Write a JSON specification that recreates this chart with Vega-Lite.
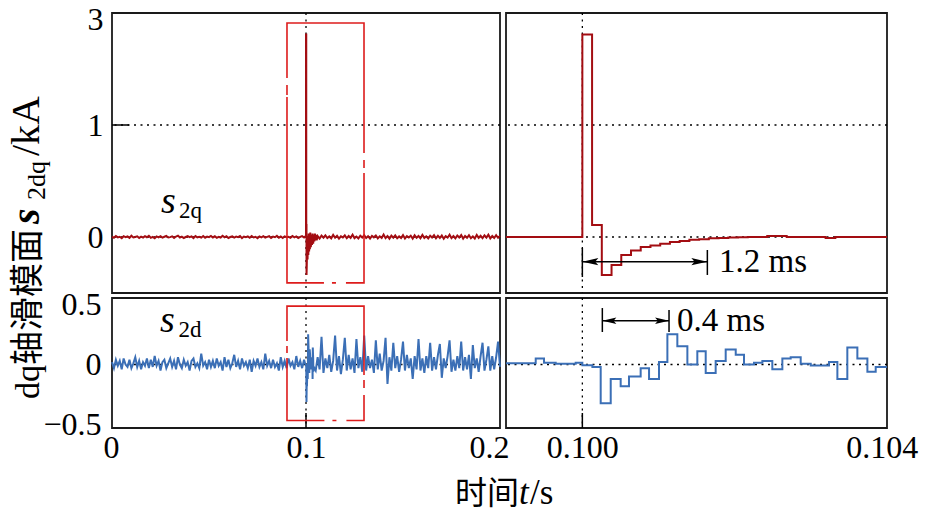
{
  "$schema": "https://vega.github.io/schema/vega-lite/v6.json",
  "background": "white",
  "padding": {"left": 6, "top": 2, "right": 0, "bottom": 0},
  "config": {
    "view": {"stroke": "#1a1a1a", "strokeWidth": 1.8},
    "axis": {"labelFont": "Liberation Serif", "labelFontSize": 32, "labelColor": "#000", "ticks": false, "domain": false, "grid": false}
  },
  "datasets": {
    "lq": [
      {"t":0,"v":0.004},{"t":0.001,"v":-0.006},{"t":0.002,"v":0.009},{"t":0.003,"v":-0.003},{"t":0.004,"v":0.002},{"t":0.005,"v":-0.01},{"t":0.006,"v":0.007},{"t":0.007,"v":-0.001},{"t":0.008,"v":0.005},{"t":0.009,"v":-0.008},
      {"t":0.01,"v":0.011},{"t":0.011,"v":-0.004},{"t":0.012,"v":0},{"t":0.013,"v":0.006},{"t":0.014,"v":-0.009},{"t":0.015,"v":0.003},{"t":0.016,"v":-0.005},{"t":0.017,"v":0.008},{"t":0.018,"v":-0.002},{"t":0.019,"v":0.01},
      {"t":0.02,"v":-0.007},{"t":0.021,"v":0.001},{"t":0.022,"v":-0.011},{"t":0.023,"v":0.005},{"t":0.024,"v":-0.003},{"t":0.025,"v":0.007},{"t":0.026,"v":-0.006},{"t":0.027,"v":0.002},{"t":0.028,"v":0.009},{"t":0.029,"v":-0.004},
      {"t":0.03,"v":-0.001},{"t":0.031,"v":0.006},{"t":0.032,"v":-0.008},{"t":0.033,"v":0.004},{"t":0.034,"v":0.012},{"t":0.035,"v":-0.005},{"t":0.036,"v":0.003},{"t":0.037,"v":-0.009},{"t":0.038,"v":0},{"t":0.039,"v":0.007},
      {"t":0.04,"v":-0.002},{"t":0.041,"v":0.005},{"t":0.042,"v":-0.01},{"t":0.043,"v":0.008},{"t":0.044,"v":-0.003},{"t":0.045,"v":0.001},{"t":0.046,"v":-0.006},{"t":0.047,"v":0.009},{"t":0.048,"v":-0.007},{"t":0.049,"v":0.004},
      {"t":0.05,"v":-0.001},{"t":0.051,"v":0.01},{"t":0.052,"v":-0.004},{"t":0.053,"v":0.006},{"t":0.054,"v":-0.008},{"t":0.055,"v":0.002},{"t":0.056,"v":-0.005},{"t":0.057,"v":0.011},{"t":0.058,"v":-0.003},{"t":0.059,"v":0.007},
      {"t":0.06,"v":-0.009},{"t":0.061,"v":0},{"t":0.062,"v":0.005},{"t":0.063,"v":-0.006},{"t":0.064,"v":0.003},{"t":0.065,"v":-0.002},{"t":0.066,"v":0.008},{"t":0.067,"v":-0.01},{"t":0.068,"v":0.004},{"t":0.069,"v":-0.001},
      {"t":0.07,"v":0.006},{"t":0.071,"v":-0.007},{"t":0.072,"v":0.009},{"t":0.073,"v":-0.004},{"t":0.074,"v":0.002},{"t":0.075,"v":-0.011},{"t":0.076,"v":0.005},{"t":0.077,"v":-0.003},{"t":0.078,"v":0.008},{"t":0.079,"v":-0.005},
      {"t":0.08,"v":0.001},{"t":0.081,"v":0.007},{"t":0.082,"v":-0.008},{"t":0.083,"v":0.003},{"t":0.084,"v":-0.002},{"t":0.085,"v":0.01},{"t":0.086,"v":-0.006},{"t":0.087,"v":0.004},{"t":0.088,"v":-0.009},{"t":0.089,"v":0.006},
      {"t":0.09,"v":-0.001},{"t":0.091,"v":0.002},{"t":0.092,"v":-0.007},{"t":0.093,"v":0.009},{"t":0.094,"v":-0.003},{"t":0.095,"v":0.005},{"t":0.096,"v":-0.01},{"t":0.097,"v":0.001},{"t":0.098,"v":0.008},{"t":0.099,"v":-0.004},
      {"t":0.0995,"v":0.003},{"t":0.1,"v":0},{"t":0.10001,"v":2.72},{"t":0.10013,"v":2.72},{"t":0.10014,"v":0.107},{"t":0.10026,"v":0.107},{"t":0.10027,"v":-0.34},{"t":0.1004,"v":-0.25},{"t":0.1006,"v":-0.02},{"t":0.1008,"v":-0.2},
      {"t":0.101,"v":0.01},{"t":0.1012,"v":-0.16},{"t":0.1014,"v":0.03},{"t":0.1016,"v":-0.13},{"t":0.1018,"v":0.02},{"t":0.102,"v":-0.11},{"t":0.1022,"v":0.04},{"t":0.1025,"v":-0.09},{"t":0.1028,"v":0.02},{"t":0.1031,"v":-0.07},
      {"t":0.1034,"v":0.03},{"t":0.1037,"v":-0.06},{"t":0.104,"v":0.02},{"t":0.1043,"v":-0.04},{"t":0.1046,"v":0.03},{"t":0.1049,"v":-0.03},{"t":0.1052,"v":0.02},{"t":0.1055,"v":-0.03},
      {"t":0.106,"v":0.008},{"t":0.107,"v":-0.014},{"t":0.108,"v":0.012},{"t":0.109,"v":-0.006},{"t":0.11,"v":0.015},{"t":0.111,"v":-0.009},{"t":0.112,"v":0.005},{"t":0.113,"v":-0.012},{"t":0.114,"v":0.018},{"t":0.115,"v":-0.007},
      {"t":0.116,"v":0.01},{"t":0.117,"v":-0.015},{"t":0.118,"v":0.006},{"t":0.119,"v":-0.004},{"t":0.12,"v":0.014},{"t":0.121,"v":-0.011},{"t":0.122,"v":0.009},{"t":0.123,"v":-0.008},{"t":0.124,"v":0.02},{"t":0.125,"v":-0.01},
      {"t":0.126,"v":0.004},{"t":0.127,"v":-0.013},{"t":0.128,"v":0.011},{"t":0.129,"v":-0.005},{"t":0.13,"v":0.016},{"t":0.131,"v":-0.009},{"t":0.132,"v":0.007},{"t":0.133,"v":-0.014},{"t":0.134,"v":0.01},{"t":0.135,"v":-0.003},
      {"t":0.136,"v":0.013},{"t":0.137,"v":-0.012},{"t":0.138,"v":0.006},{"t":0.139,"v":-0.008},{"t":0.14,"v":0.022},{"t":0.141,"v":-0.01},{"t":0.142,"v":0.009},{"t":0.143,"v":-0.015},{"t":0.144,"v":0.012},{"t":0.145,"v":-0.006},
      {"t":0.146,"v":0.014},{"t":0.147,"v":-0.011},{"t":0.148,"v":0.005},{"t":0.149,"v":-0.009},{"t":0.15,"v":0.017},{"t":0.151,"v":-0.013},{"t":0.152,"v":0.008},{"t":0.153,"v":-0.005},{"t":0.154,"v":0.011},{"t":0.155,"v":-0.014},
      {"t":0.156,"v":0.015},{"t":0.157,"v":-0.007},{"t":0.158,"v":0.009},{"t":0.159,"v":-0.012},{"t":0.16,"v":0.019},{"t":0.161,"v":-0.008},{"t":0.162,"v":0.006},{"t":0.163,"v":-0.013},{"t":0.164,"v":0.012},{"t":0.165,"v":-0.004},
      {"t":0.166,"v":0.016},{"t":0.167,"v":-0.011},{"t":0.168,"v":0.01},{"t":0.169,"v":-0.009},{"t":0.17,"v":0.014},{"t":0.171,"v":-0.015},{"t":0.172,"v":0.007},{"t":0.173,"v":-0.006},{"t":0.174,"v":0.021},{"t":0.175,"v":-0.01},
      {"t":0.176,"v":0.008},{"t":0.177,"v":-0.012},{"t":0.178,"v":0.013},{"t":0.179,"v":-0.005},{"t":0.18,"v":0.017},{"t":0.181,"v":-0.014},{"t":0.182,"v":0.009},{"t":0.183,"v":-0.007},{"t":0.184,"v":0.015},{"t":0.185,"v":-0.011},
      {"t":0.186,"v":0.006},{"t":0.187,"v":-0.013},{"t":0.188,"v":0.018},{"t":0.189,"v":-0.008},{"t":0.19,"v":0.011},{"t":0.191,"v":-0.01},{"t":0.192,"v":0.014},{"t":0.193,"v":-0.006},{"t":0.194,"v":0.02},{"t":0.195,"v":-0.012},
      {"t":0.196,"v":0.009},{"t":0.197,"v":-0.009},{"t":0.198,"v":0.016},{"t":0.199,"v":-0.007},{"t":0.2,"v":0.01}
    ],
    "ld": [
      {"t":0,"v":0.02},{"t":0.001,"v":-0.03},{"t":0.002,"v":0.04},{"t":0.003,"v":-0.01},{"t":0.004,"v":0.03},{"t":0.005,"v":-0.04},{"t":0.006,"v":0.05},{"t":0.007,"v":0},{"t":0.008,"v":-0.02},{"t":0.009,"v":0.04},
      {"t":0.01,"v":-0.03},{"t":0.011,"v":0.01},{"t":0.012,"v":0.06},{"t":0.013,"v":-0.02},{"t":0.014,"v":0.03},{"t":0.015,"v":-0.04},{"t":0.016,"v":0.02},{"t":0.017,"v":-0.01},{"t":0.018,"v":0.05},{"t":0.019,"v":-0.03},
      {"t":0.02,"v":0.04},{"t":0.021,"v":-0.02},{"t":0.022,"v":0.07},{"t":0.023,"v":-0.01},{"t":0.024,"v":0.03},{"t":0.025,"v":-0.05},{"t":0.026,"v":0.02},{"t":0.027,"v":0.04},{"t":0.028,"v":-0.03},{"t":0.029,"v":0.01},
      {"t":0.03,"v":0.05},{"t":0.031,"v":-0.02},{"t":0.032,"v":0.03},{"t":0.033,"v":-0.04},{"t":0.034,"v":0.06},{"t":0.035,"v":0},{"t":0.036,"v":-0.03},{"t":0.037,"v":0.04},{"t":0.038,"v":-0.01},{"t":0.039,"v":0.02},
      {"t":0.04,"v":-0.05},{"t":0.041,"v":0.03},{"t":0.042,"v":0.05},{"t":0.043,"v":-0.02},{"t":0.044,"v":0.01},{"t":0.045,"v":-0.03},{"t":0.046,"v":0.09},{"t":0.047,"v":-0.01},{"t":0.048,"v":0.02},{"t":0.049,"v":-0.04},
      {"t":0.05,"v":0.04},{"t":0.051,"v":-0.02},{"t":0.052,"v":0.03},{"t":0.053,"v":-0.03},{"t":0.054,"v":0.05},{"t":0.055,"v":-0.01},{"t":0.056,"v":0.02},{"t":0.057,"v":-0.05},{"t":0.058,"v":0.06},{"t":0.059,"v":-0.02},
      {"t":0.06,"v":0.04},{"t":0.061,"v":-0.03},{"t":0.062,"v":0.01},{"t":0.063,"v":0.08},{"t":0.064,"v":-0.02},{"t":0.065,"v":0.03},{"t":0.066,"v":-0.04},{"t":0.067,"v":0.05},{"t":0.068,"v":-0.01},{"t":0.069,"v":0.02},
      {"t":0.07,"v":-0.03},{"t":0.071,"v":0.04},{"t":0.072,"v":-0.06},{"t":0.073,"v":0.03},{"t":0.074,"v":-0.01},{"t":0.075,"v":0.05},{"t":0.076,"v":-0.02},{"t":0.077,"v":0.02},{"t":0.078,"v":-0.04},{"t":0.079,"v":0.09},
      {"t":0.08,"v":-0.01},{"t":0.081,"v":0.03},{"t":0.082,"v":-0.03},{"t":0.083,"v":0.04},{"t":0.084,"v":-0.02},{"t":0.085,"v":0.01},{"t":0.086,"v":-0.05},{"t":0.087,"v":0.06},{"t":0.088,"v":-0.02},{"t":0.089,"v":0.03},
      {"t":0.09,"v":-0.03},{"t":0.091,"v":0.05},{"t":0.092,"v":-0.01},{"t":0.093,"v":0.02},{"t":0.094,"v":-0.04},{"t":0.095,"v":0.07},{"t":0.096,"v":-0.02},{"t":0.097,"v":0.03},{"t":0.098,"v":-0.03},{"t":0.099,"v":0.04},
      {"t":0.0995,"v":0.01},{"t":0.1,"v":-0.006},{"t":0.10013,"v":-0.02},{"t":0.10025,"v":-0.31},{"t":0.1004,"v":-0.12},{"t":0.1005,"v":-0.18},{"t":0.1006,"v":-0.1},{"t":0.1008,"v":-0.03},{"t":0.1009,"v":-0.12},{"t":0.101,"v":0.02},
      {"t":0.1011,"v":0.25},{"t":0.1013,"v":0.15},{"t":0.1014,"v":0},{"t":0.1015,"v":0.11},{"t":0.1017,"v":-0.07},{"t":0.1018,"v":0.03},{"t":0.1019,"v":0.125},{"t":0.1021,"v":0.08},{"t":0.1022,"v":0},{"t":0.1024,"v":0.03},
      {"t":0.1026,"v":-0.04},{"t":0.1027,"v":0.05},{"t":0.1029,"v":0.06},{"t":0.103,"v":0.006},{"t":0.1033,"v":0.02},{"t":0.1034,"v":-0.12},{"t":0.1035,"v":0.14},{"t":0.1037,"v":0.05},{"t":0.1038,"v":-0.06},{"t":0.104,"v":-0.02},
      {"t":0.105,"v":-0.05},{"t":0.106,"v":0.06},{"t":0.107,"v":-0.04},{"t":0.108,"v":0.23},{"t":0.109,"v":-0.07},{"t":0.11,"v":0.05},{"t":0.111,"v":-0.03},{"t":0.112,"v":0.08},{"t":0.113,"v":-0.06},{"t":0.114,"v":0.03},
      {"t":0.115,"v":0.24},{"t":0.116,"v":-0.05},{"t":0.117,"v":0.07},{"t":0.118,"v":-0.08},{"t":0.119,"v":0.04},{"t":0.12,"v":0.22},{"t":0.121,"v":-0.05},{"t":0.122,"v":0.08},{"t":0.123,"v":-0.04},{"t":0.124,"v":0.05},
      {"t":0.125,"v":-0.07},{"t":0.126,"v":0.21},{"t":0.127,"v":-0.03},{"t":0.128,"v":0.06},{"t":0.129,"v":-0.06},{"t":0.13,"v":0.24},{"t":0.131,"v":-0.05},{"t":0.132,"v":0.07},{"t":0.133,"v":-0.03},{"t":0.134,"v":0.04},
      {"t":0.135,"v":-0.07},{"t":0.136,"v":0.2},{"t":0.137,"v":-0.04},{"t":0.138,"v":0.09},{"t":0.139,"v":-0.05},{"t":0.14,"v":0.03},{"t":0.141,"v":0.22},{"t":0.142,"v":-0.16},{"t":0.143,"v":0.06},{"t":0.144,"v":-0.05},
      {"t":0.145,"v":0.18},{"t":0.146,"v":-0.03},{"t":0.147,"v":0.07},{"t":0.148,"v":-0.06},{"t":0.149,"v":0.04},{"t":0.15,"v":0.19},{"t":0.151,"v":-0.05},{"t":0.152,"v":0.08},{"t":0.153,"v":-0.03},{"t":0.154,"v":0.05},
      {"t":0.155,"v":-0.12},{"t":0.156,"v":0.07},{"t":0.157,"v":-0.04},{"t":0.158,"v":0.21},{"t":0.159,"v":-0.05},{"t":0.16,"v":0.05},{"t":0.161,"v":-0.07},{"t":0.162,"v":0.07},{"t":0.163,"v":-0.03},{"t":0.164,"v":0.18},
      {"t":0.165,"v":-0.05},{"t":0.166,"v":0.06},{"t":0.167,"v":-0.04},{"t":0.168,"v":0.08},{"t":0.169,"v":0.17},{"t":0.17,"v":-0.11},{"t":0.171,"v":0.05},{"t":0.172,"v":-0.03},{"t":0.173,"v":0.07},{"t":0.174,"v":0.2},
      {"t":0.175,"v":-0.06},{"t":0.176,"v":0.04},{"t":0.177,"v":-0.05},{"t":0.178,"v":0.07},{"t":0.179,"v":-0.03},{"t":0.18,"v":0.19},{"t":0.181,"v":-0.05},{"t":0.182,"v":0.06},{"t":0.183,"v":-0.04},{"t":0.184,"v":0.08},
      {"t":0.185,"v":-0.12},{"t":0.186,"v":0.16},{"t":0.187,"v":-0.03},{"t":0.188,"v":0.05},{"t":0.189,"v":-0.06},{"t":0.19,"v":0.07},{"t":0.191,"v":0.18},{"t":0.192,"v":-0.05},{"t":0.193,"v":0.04},{"t":0.194,"v":0.15},
      {"t":0.195,"v":-0.05},{"t":0.196,"v":0.07},{"t":0.197,"v":-0.04},{"t":0.198,"v":0.06},{"t":0.199,"v":0.19},{"t":0.2,"v":-0.02}
    ],
    "rq": [
      {"t":0.09898,"v":0},{"t":0.1,"v":2.72},{"t":0.10013,"v":0.107},{"t":0.10026,"v":-0.34},{"t":0.10039,"v":-0.25},{"t":0.10052,"v":-0.16},{"t":0.10065,"v":-0.12},{"t":0.10078,"v":-0.09},{"t":0.10091,"v":-0.075},{"t":0.10104,"v":-0.06},
      {"t":0.10117,"v":-0.045},{"t":0.1013,"v":-0.035},{"t":0.10143,"v":-0.025},{"t":0.10156,"v":-0.02},{"t":0.10169,"v":-0.012},{"t":0.10182,"v":-0.008},{"t":0.10195,"v":-0.005},{"t":0.10208,"v":-0.003},{"t":0.10221,"v":0},{"t":0.10247,"v":0.01},
      {"t":0.10273,"v":0},{"t":0.10325,"v":-0.008},{"t":0.10338,"v":0},{"t":0.10407,"v":0}
    ],
    "rd": [
      {"t":0.09898,"v":0.01},{"t":0.099377,"v":0.05},{"t":0.099488,"v":0.014},{"t":0.099644,"v":0.006},{"t":0.099911,"v":0.014},{"t":0.1,"v":-0.006},{"t":0.100134,"v":-0.02},{"t":0.100245,"v":-0.32},{"t":0.100379,"v":-0.12},{"t":0.100512,"v":-0.18},
      {"t":0.100623,"v":-0.1},{"t":0.100779,"v":-0.03},{"t":0.100891,"v":-0.12},{"t":0.101024,"v":0.02},{"t":0.101136,"v":0.25},{"t":0.101269,"v":0.15},{"t":0.101403,"v":0},{"t":0.101536,"v":0.11},{"t":0.101648,"v":-0.07},{"t":0.101781,"v":0.03},
      {"t":0.101915,"v":0.125},{"t":0.102049,"v":0.08},{"t":0.10216,"v":0},{"t":0.102293,"v":0.014},{"t":0.102405,"v":0.03},{"t":0.102538,"v":-0.04},{"t":0.102672,"v":0.05},{"t":0.102783,"v":0.06},{"t":0.102917,"v":0.006},{"t":0.103051,"v":-0.008},
      {"t":0.103295,"v":0.02},{"t":0.103407,"v":-0.12},{"t":0.10354,"v":0.14},{"t":0.103674,"v":0.05},{"t":0.103808,"v":-0.06},{"t":0.103919,"v":-0.02},{"t":0.10407,"v":-0.02}
    ]
  },
  "concat": [
    {
      "width": 388, "height": 280,
      "layer": [
        {"data": {"values": [{"v": 0}, {"v": 1}]}, "mark": {"type": "rule", "color": "#000", "strokeWidth": 1.3, "strokeDash": [2, 4.5]},
         "encoding": {"y": {"field": "v", "type": "quantitative", "scale": {"domain": [-0.5, 1, 3.13], "range": [280, 112, 0], "nice": false, "zero": false}, "axis": {"values": [0, 1, 3], "format": "~g", "title": null, "labelPadding": 9}}}},
        {"data": {"values": [{"t": 0.1}]}, "mark": {"type": "rule", "color": "#000", "strokeWidth": 1.3, "strokeDash": [2, 4.5]},
         "encoding": {"x": {"field": "t", "type": "quantitative", "scale": {"domain": [0, 0.2], "nice": false, "zero": false}, "axis": null}}},
        {"data": {"values": [{"t": 0, "t2": 0.0088, "v": 1}]}, "mark": {"type": "rule", "color": "#000", "strokeWidth": 1.5},
         "encoding": {"x": {"field": "t", "type": "quantitative", "scale": {"domain": [0, 0.2], "nice": false, "zero": false}, "axis": null}, "x2": {"field": "t2"},
                      "y": {"field": "v", "type": "quantitative", "scale": {"domain": [-0.5, 1, 3.13], "range": [280, 112, 0], "nice": false, "zero": false}, "axis": {"values": [0, 1, 3], "format": "~g", "title": null, "labelPadding": 9}}}},
        {"data": {"name": "lq"}, "mark": {"type": "line", "color": "#a30d12", "strokeWidth": 2},
         "encoding": {"x": {"field": "t", "type": "quantitative", "scale": {"domain": [0, 0.2], "nice": false, "zero": false}, "axis": null},
                      "y": {"field": "v", "type": "quantitative", "scale": {"domain": [-0.5, 1, 3.13], "range": [280, 112, 0], "nice": false, "zero": false}, "axis": {"values": [0, 1, 3], "format": "~g", "title": null, "labelPadding": 9}}}},
        {"data": {"values": [{"t": 0.0902, "t2": 0.1299, "v": -0.41, "v2": 2.94}]}, "mark": {"type": "rect", "filled": false, "color": "#dd1c1c", "strokeWidth": 1.6, "strokeDash": [207, 7, 8, 5, 128, 10, 4, 8, 223, 2, 10, 7, 60]},
         "encoding": {"x": {"field": "t", "type": "quantitative", "scale": {"domain": [0, 0.2], "nice": false, "zero": false}, "axis": null}, "x2": {"field": "t2"},
                      "y": {"field": "v", "type": "quantitative", "scale": {"domain": [-0.5, 1, 3.13], "range": [280, 112, 0], "nice": false, "zero": false}, "axis": {"values": [0, 1, 3], "format": "~g", "title": null, "labelPadding": 9}}, "y2": {"field": "v2"}}},
        {"data": {"values": [{"t": 0.0252, "v": 0.212, "lab": "s"}]}, "mark": {"type": "text", "align": "left", "baseline": "alphabetic", "font": "Liberation Serif", "fontSize": 38, "fontStyle": "italic", "color": "#000"},
         "encoding": {"x": {"field": "t", "type": "quantitative", "scale": {"domain": [0, 0.2], "nice": false, "zero": false}, "axis": null},
                      "y": {"field": "v", "type": "quantitative", "scale": {"domain": [-0.5, 1, 3.13], "range": [280, 112, 0], "nice": false, "zero": false}, "axis": {"values": [0, 1, 3], "format": "~g", "title": null, "labelPadding": 9}}, "text": {"field": "lab"}}},
        {"data": {"values": [{"t": 0.0345, "v": 0.167, "lab": "2q"}]}, "mark": {"type": "text", "align": "left", "baseline": "alphabetic", "font": "Liberation Serif", "fontSize": 23, "color": "#000"},
         "encoding": {"x": {"field": "t", "type": "quantitative", "scale": {"domain": [0, 0.2], "nice": false, "zero": false}, "axis": null},
                      "y": {"field": "v", "type": "quantitative", "scale": {"domain": [-0.5, 1, 3.13], "range": [280, 112, 0], "nice": false, "zero": false}, "axis": {"values": [0, 1, 3], "format": "~g", "title": null, "labelPadding": 9}}, "text": {"field": "lab"}}},
        {"data": {"values": [{"t": -0.0376, "v": -1.446, "lab": "dq轴滑模面"}]}, "mark": {"type": "text", "align": "left", "baseline": "alphabetic", "angle": 270, "font": "Liberation Serif, Noto Sans CJK SC", "fontSize": 34, "color": "#000"},
         "encoding": {"x": {"field": "t", "type": "quantitative", "scale": {"domain": [0, 0.2], "nice": false, "zero": false}, "axis": null},
                      "y": {"field": "v", "type": "quantitative", "scale": {"domain": [-0.5, 1, 3.13], "range": [280, 112, 0], "nice": false, "zero": false}, "axis": {"values": [0, 1, 3], "format": "~g", "title": null, "labelPadding": 9}}, "text": {"field": "lab"}}},
        {"data": {"values": [{"t": -0.0376, "v": 0.723, "lab": "/kA"}]}, "mark": {"type": "text", "align": "left", "baseline": "alphabetic", "angle": 270, "font": "Liberation Serif", "fontSize": 40, "color": "#000"},
         "encoding": {"x": {"field": "t", "type": "quantitative", "scale": {"domain": [0, 0.2], "nice": false, "zero": false}, "axis": null},
                      "y": {"field": "v", "type": "quantitative", "scale": {"domain": [-0.5, 1, 3.13], "range": [280, 112, 0], "nice": false, "zero": false}, "axis": {"values": [0, 1, 3], "format": "~g", "title": null, "labelPadding": 9}}, "text": {"field": "lab"}}},
        {"data": {"values": [{"t": -0.0376, "v": 0.116, "lab": "s"}]}, "mark": {"type": "text", "align": "left", "baseline": "alphabetic", "angle": 270, "font": "Liberation Serif", "fontSize": 40, "fontStyle": "italic", "fontWeight": "bold", "color": "#000"},
         "encoding": {"x": {"field": "t", "type": "quantitative", "scale": {"domain": [0, 0.2], "nice": false, "zero": false}, "axis": null},
                      "y": {"field": "v", "type": "quantitative", "scale": {"domain": [-0.5, 1, 3.13], "range": [280, 112, 0], "nice": false, "zero": false}, "axis": {"values": [0, 1, 3], "format": "~g", "title": null, "labelPadding": 9}}, "text": {"field": "lab"}}},
        {"data": {"values": [{"t": -0.0345, "v": 0.33, "lab": "2dq"}]}, "mark": {"type": "text", "align": "left", "baseline": "alphabetic", "angle": 270, "font": "Liberation Serif", "fontSize": 26, "color": "#000"},
         "encoding": {"x": {"field": "t", "type": "quantitative", "scale": {"domain": [0, 0.2], "nice": false, "zero": false}, "axis": null},
                      "y": {"field": "v", "type": "quantitative", "scale": {"domain": [-0.5, 1, 3.13], "range": [280, 112, 0], "nice": false, "zero": false}, "axis": {"values": [0, 1, 3], "format": "~g", "title": null, "labelPadding": 9}}, "text": {"field": "lab"}}}
      ]
    },
    {
      "width": 381, "height": 280,
      "layer": [
        {"data": {"values": [{"v": 0}, {"v": 1}]}, "mark": {"type": "rule", "color": "#000", "strokeWidth": 1.3, "strokeDash": [2, 4.5]},
         "encoding": {"y": {"field": "v", "type": "quantitative", "scale": {"domain": [-0.5, 1, 3.13], "range": [280, 112, 0], "nice": false, "zero": false}, "axis": null}}},
        {"data": {"values": [{"t": 0.1}]}, "mark": {"type": "rule", "color": "#000", "strokeWidth": 1.3, "strokeDash": [2, 4.5]},
         "encoding": {"x": {"field": "t", "type": "quantitative", "scale": {"domain": [0.09898, 0.10407], "nice": false, "zero": false}, "axis": null}}},
        {"data": {"name": "rq"}, "mark": {"type": "line", "color": "#a30d12", "strokeWidth": 2, "interpolate": "step-after"},
         "encoding": {"x": {"field": "t", "type": "quantitative", "scale": {"domain": [0.09898, 0.10407], "nice": false, "zero": false}, "axis": null},
                      "y": {"field": "v", "type": "quantitative", "scale": {"domain": [-0.5, 1, 3.13], "range": [280, 112, 0], "nice": false, "zero": false}, "axis": null}}},
        {"data": {"values": [{"t": 0.1, "t2": 0.10167, "v": -0.22}]}, "mark": {"type": "rule", "color": "#000", "strokeWidth": 1.5},
         "encoding": {"x": {"field": "t", "type": "quantitative", "scale": {"domain": [0.09898, 0.10407], "nice": false, "zero": false}, "axis": null}, "x2": {"field": "t2"},
                      "y": {"field": "v", "type": "quantitative", "scale": {"domain": [-0.5, 1, 3.13], "range": [280, 112, 0], "nice": false, "zero": false}, "axis": null}}},
        {"data": {"values": [{"t": 0.1, "v": -0.098, "v2": -0.357}, {"t": 0.10167, "v": -0.116, "v2": -0.339}]}, "mark": {"type": "rule", "color": "#000", "strokeWidth": 1.5},
         "encoding": {"x": {"field": "t", "type": "quantitative", "scale": {"domain": [0.09898, 0.10407], "nice": false, "zero": false}, "axis": null},
                      "y": {"field": "v", "type": "quantitative", "scale": {"domain": [-0.5, 1, 3.13], "range": [280, 112, 0], "nice": false, "zero": false}, "axis": null}, "y2": {"field": "v2"}}},
        {"data": {"values": [{"t": 0.100107, "v": -0.22}]}, "mark": {"type": "point", "shape": "M-1,0L1,-0.45L0.6,0L1,0.45Z", "filled": true, "color": "#000", "size": 256, "opacity": 1},
         "encoding": {"x": {"field": "t", "type": "quantitative", "scale": {"domain": [0.09898, 0.10407], "nice": false, "zero": false}, "axis": null},
                      "y": {"field": "v", "type": "quantitative", "scale": {"domain": [-0.5, 1, 3.13], "range": [280, 112, 0], "nice": false, "zero": false}, "axis": null}}},
        {"data": {"values": [{"t": 0.101563, "v": -0.22}]}, "mark": {"type": "point", "shape": "M1,0L-1,-0.45L-0.6,0L-1,0.45Z", "filled": true, "color": "#000", "size": 256, "opacity": 1},
         "encoding": {"x": {"field": "t", "type": "quantitative", "scale": {"domain": [0.09898, 0.10407], "nice": false, "zero": false}, "axis": null},
                      "y": {"field": "v", "type": "quantitative", "scale": {"domain": [-0.5, 1, 3.13], "range": [280, 112, 0], "nice": false, "zero": false}, "axis": null}}},
        {"data": {"values": [{"t": 0.101826, "v": -0.22, "lab": "1.2 ms"}]}, "mark": {"type": "text", "align": "left", "baseline": "middle", "font": "Liberation Serif", "fontSize": 33, "color": "#000"},
         "encoding": {"x": {"field": "t", "type": "quantitative", "scale": {"domain": [0.09898, 0.10407], "nice": false, "zero": false}, "axis": null},
                      "y": {"field": "v", "type": "quantitative", "scale": {"domain": [-0.5, 1, 3.13], "range": [280, 112, 0], "nice": false, "zero": false}, "axis": null}, "text": {"field": "lab"}}}
      ]
    },
    {
      "width": 388, "height": 130,
      "layer": [
        {"data": {"values": [{"v": 0}]}, "mark": {"type": "rule", "color": "#000", "strokeWidth": 1.3, "strokeDash": [2, 4.5]},
         "encoding": {"y": {"field": "v", "type": "quantitative", "scale": {"domain": [-0.525, 0.55], "nice": false, "zero": false}, "axis": {"values": [-0.5, 0, 0.5], "format": "~g", "title": null, "labelPadding": 11}}}},
        {"data": {"values": [{"t": 0.1}]}, "mark": {"type": "rule", "color": "#000", "strokeWidth": 1.3, "strokeDash": [2, 4.5]},
         "encoding": {"x": {"field": "t", "type": "quantitative", "scale": {"domain": [0, 0.2], "nice": false, "zero": false}, "axis": {"values": [0, 0.1, 0.2], "format": "~g", "title": null, "labelPadding": 4, "labelFlush": true, "labelFlushOffset": 9}}}},
        {"data": {"values": [{"t": 0.1, "v": -0.525, "v2": -0.401}]}, "mark": {"type": "rule", "color": "#000", "strokeWidth": 1.5},
         "encoding": {"x": {"field": "t", "type": "quantitative", "scale": {"domain": [0, 0.2], "nice": false, "zero": false}, "axis": {"values": [0, 0.1, 0.2], "format": "~g", "title": null, "labelPadding": 4, "labelFlush": true, "labelFlushOffset": 9}},
                      "y": {"field": "v", "type": "quantitative", "scale": {"domain": [-0.525, 0.55], "nice": false, "zero": false}, "axis": {"values": [-0.5, 0, 0.5], "format": "~g", "title": null, "labelPadding": 11}}, "y2": {"field": "v2"}}},
        {"data": {"name": "ld"}, "mark": {"type": "line", "color": "#3b6fb6", "strokeWidth": 2},
         "encoding": {"x": {"field": "t", "type": "quantitative", "scale": {"domain": [0, 0.2], "nice": false, "zero": false}, "axis": {"values": [0, 0.1, 0.2], "format": "~g", "title": null, "labelPadding": 4, "labelFlush": true, "labelFlushOffset": 9}},
                      "y": {"field": "v", "type": "quantitative", "scale": {"domain": [-0.525, 0.55], "nice": false, "zero": false}, "axis": {"values": [-0.5, 0, 0.5], "format": "~g", "title": null, "labelPadding": 11}}}},
        {"data": {"values": [{"t": 0.0902, "t2": 0.1299, "v": -0.463, "v2": 0.483}]}, "mark": {"type": "rect", "filled": false, "color": "#dd1c1c", "strokeWidth": 1.6, "strokeDash": [146, 5, 8, 7, 43, 10, 4, 8, 100, 5, 7, 5, 40]},
         "encoding": {"x": {"field": "t", "type": "quantitative", "scale": {"domain": [0, 0.2], "nice": false, "zero": false}, "axis": {"values": [0, 0.1, 0.2], "format": "~g", "title": null, "labelPadding": 4, "labelFlush": true, "labelFlushOffset": 9}}, "x2": {"field": "t2"},
                      "y": {"field": "v", "type": "quantitative", "scale": {"domain": [-0.525, 0.55], "nice": false, "zero": false}, "axis": {"values": [-0.5, 0, 0.5], "format": "~g", "title": null, "labelPadding": 11}}, "y2": {"field": "v2"}}},
        {"data": {"values": [{"t": 0.0248, "v": 0.271, "lab": "s"}]}, "mark": {"type": "text", "align": "left", "baseline": "alphabetic", "font": "Liberation Serif", "fontSize": 38, "fontStyle": "italic", "color": "#000"},
         "encoding": {"x": {"field": "t", "type": "quantitative", "scale": {"domain": [0, 0.2], "nice": false, "zero": false}, "axis": {"values": [0, 0.1, 0.2], "format": "~g", "title": null, "labelPadding": 4, "labelFlush": true, "labelFlushOffset": 9}},
                      "y": {"field": "v", "type": "quantitative", "scale": {"domain": [-0.525, 0.55], "nice": false, "zero": false}, "axis": {"values": [-0.5, 0, 0.5], "format": "~g", "title": null, "labelPadding": 11}}, "text": {"field": "lab"}}},
        {"data": {"values": [{"t": 0.0343, "v": 0.23, "lab": "2d"}]}, "mark": {"type": "text", "align": "left", "baseline": "alphabetic", "font": "Liberation Serif", "fontSize": 23, "color": "#000"},
         "encoding": {"x": {"field": "t", "type": "quantitative", "scale": {"domain": [0, 0.2], "nice": false, "zero": false}, "axis": {"values": [0, 0.1, 0.2], "format": "~g", "title": null, "labelPadding": 4, "labelFlush": true, "labelFlushOffset": 9}},
                      "y": {"field": "v", "type": "quantitative", "scale": {"domain": [-0.525, 0.55], "nice": false, "zero": false}, "axis": {"values": [-0.5, 0, 0.5], "format": "~g", "title": null, "labelPadding": 11}}, "text": {"field": "lab"}}},
        {"data": {"values": [{"t": 0.1768, "v": -1.1536, "lab": "时间"}]}, "mark": {"type": "text", "align": "left", "baseline": "alphabetic", "font": "Liberation Serif, Noto Sans CJK SC", "fontSize": 32, "color": "#000"},
         "encoding": {"x": {"field": "t", "type": "quantitative", "scale": {"domain": [0, 0.2], "nice": false, "zero": false}, "axis": {"values": [0, 0.1, 0.2], "format": "~g", "title": null, "labelPadding": 4, "labelFlush": true, "labelFlushOffset": 9}},
                      "y": {"field": "v", "type": "quantitative", "scale": {"domain": [-0.525, 0.55], "nice": false, "zero": false}, "axis": {"values": [-0.5, 0, 0.5], "format": "~g", "title": null, "labelPadding": 11}}, "text": {"field": "lab"}}},
        {"data": {"values": [{"t": 0.21546, "v": -1.1536, "lab": "/s"}]}, "mark": {"type": "text", "align": "left", "baseline": "alphabetic", "font": "Liberation Serif", "fontSize": 35, "color": "#000"},
         "encoding": {"x": {"field": "t", "type": "quantitative", "scale": {"domain": [0, 0.2], "nice": false, "zero": false}, "axis": {"values": [0, 0.1, 0.2], "format": "~g", "title": null, "labelPadding": 4, "labelFlush": true, "labelFlushOffset": 9}},
                      "y": {"field": "v", "type": "quantitative", "scale": {"domain": [-0.525, 0.55], "nice": false, "zero": false}, "axis": {"values": [-0.5, 0, 0.5], "format": "~g", "title": null, "labelPadding": 11}}, "text": {"field": "lab"}}},
        {"data": {"values": [{"t": 0.2098, "v": -1.1536, "lab": "t"}]}, "mark": {"type": "text", "align": "left", "baseline": "alphabetic", "font": "Liberation Serif", "fontSize": 35, "fontStyle": "italic", "color": "#000"},
         "encoding": {"x": {"field": "t", "type": "quantitative", "scale": {"domain": [0, 0.2], "nice": false, "zero": false}, "axis": {"values": [0, 0.1, 0.2], "format": "~g", "title": null, "labelPadding": 4, "labelFlush": true, "labelFlushOffset": 9}},
                      "y": {"field": "v", "type": "quantitative", "scale": {"domain": [-0.525, 0.55], "nice": false, "zero": false}, "axis": {"values": [-0.5, 0, 0.5], "format": "~g", "title": null, "labelPadding": 11}}, "text": {"field": "lab"}}}
      ]
    },
    {
      "width": 381, "height": 130,
      "layer": [
        {"data": {"values": [{"v": 0}]}, "mark": {"type": "rule", "color": "#000", "strokeWidth": 1.3, "strokeDash": [2, 4.5]},
         "encoding": {"y": {"field": "v", "type": "quantitative", "scale": {"domain": [-0.525, 0.55], "nice": false, "zero": false}, "axis": null}}},
        {"data": {"values": [{"t": 0.1}]}, "mark": {"type": "rule", "color": "#000", "strokeWidth": 1.3, "strokeDash": [2, 4.5]},
         "encoding": {"x": {"field": "t", "type": "quantitative", "scale": {"domain": [0.09898, 0.10407], "nice": false, "zero": false}, "axis": {"values": [0.1, 0.104], "format": ".3f", "title": null, "labelPadding": 4}}}},
        {"data": {"values": [{"t": 0.1, "v": -0.525, "v2": -0.401}]}, "mark": {"type": "rule", "color": "#000", "strokeWidth": 1.5},
         "encoding": {"x": {"field": "t", "type": "quantitative", "scale": {"domain": [0.09898, 0.10407], "nice": false, "zero": false}, "axis": {"values": [0.1, 0.104], "format": ".3f", "title": null, "labelPadding": 4}},
                      "y": {"field": "v", "type": "quantitative", "scale": {"domain": [-0.525, 0.55], "nice": false, "zero": false}, "axis": null}, "y2": {"field": "v2"}}},
        {"data": {"name": "rd"}, "mark": {"type": "line", "color": "#3b6fb6", "strokeWidth": 2, "interpolate": "step-after"},
         "encoding": {"x": {"field": "t", "type": "quantitative", "scale": {"domain": [0.09898, 0.10407], "nice": false, "zero": false}, "axis": {"values": [0.1, 0.104], "format": ".3f", "title": null, "labelPadding": 4}},
                      "y": {"field": "v", "type": "quantitative", "scale": {"domain": [-0.525, 0.55], "nice": false, "zero": false}, "axis": null}}},
        {"data": {"values": [{"t": 0.100267, "t2": 0.101158, "v": 0.362}]}, "mark": {"type": "rule", "color": "#000", "strokeWidth": 1.5},
         "encoding": {"x": {"field": "t", "type": "quantitative", "scale": {"domain": [0.09898, 0.10407], "nice": false, "zero": false}, "axis": {"values": [0.1, 0.104], "format": ".3f", "title": null, "labelPadding": 4}}, "x2": {"field": "t2"},
                      "y": {"field": "v", "type": "quantitative", "scale": {"domain": [-0.525, 0.55], "nice": false, "zero": false}, "axis": null}}},
        {"data": {"values": [{"t": 0.100267, "v": 0.467, "v2": 0.269}, {"t": 0.101158, "v": 0.451, "v2": 0.269}]}, "mark": {"type": "rule", "color": "#000", "strokeWidth": 1.5},
         "encoding": {"x": {"field": "t", "type": "quantitative", "scale": {"domain": [0.09898, 0.10407], "nice": false, "zero": false}, "axis": {"values": [0.1, 0.104], "format": ".3f", "title": null, "labelPadding": 4}},
                      "y": {"field": "v", "type": "quantitative", "scale": {"domain": [-0.525, 0.55], "nice": false, "zero": false}, "axis": null}, "y2": {"field": "v2"}}},
        {"data": {"values": [{"t": 0.100361, "v": 0.362}]}, "mark": {"type": "point", "shape": "M-1,0L1,-0.45L0.6,0L1,0.45Z", "filled": true, "color": "#000", "size": 196, "opacity": 1},
         "encoding": {"x": {"field": "t", "type": "quantitative", "scale": {"domain": [0.09898, 0.10407], "nice": false, "zero": false}, "axis": {"values": [0.1, 0.104], "format": ".3f", "title": null, "labelPadding": 4}},
                      "y": {"field": "v", "type": "quantitative", "scale": {"domain": [-0.525, 0.55], "nice": false, "zero": false}, "axis": null}}},
        {"data": {"values": [{"t": 0.101065, "v": 0.362}]}, "mark": {"type": "point", "shape": "M1,0L-1,-0.45L-0.6,0L-1,0.45Z", "filled": true, "color": "#000", "size": 196, "opacity": 1},
         "encoding": {"x": {"field": "t", "type": "quantitative", "scale": {"domain": [0.09898, 0.10407], "nice": false, "zero": false}, "axis": {"values": [0.1, 0.104], "format": ".3f", "title": null, "labelPadding": 4}},
                      "y": {"field": "v", "type": "quantitative", "scale": {"domain": [-0.525, 0.55], "nice": false, "zero": false}, "axis": null}}},
        {"data": {"values": [{"t": 0.101265, "v": 0.362, "lab": "0.4 ms"}]}, "mark": {"type": "text", "align": "left", "baseline": "middle", "font": "Liberation Serif", "fontSize": 33, "color": "#000"},
         "encoding": {"x": {"field": "t", "type": "quantitative", "scale": {"domain": [0.09898, 0.10407], "nice": false, "zero": false}, "axis": {"values": [0.1, 0.104], "format": ".3f", "title": null, "labelPadding": 4}},
                      "y": {"field": "v", "type": "quantitative", "scale": {"domain": [-0.525, 0.55], "nice": false, "zero": false}, "axis": null}, "text": {"field": "lab"}}}
      ]
    }
  ],
  "columns": 2,
  "spacing": {"row": 5, "column": 6},
  "bounds": "flush",
  "align": "each"
}
